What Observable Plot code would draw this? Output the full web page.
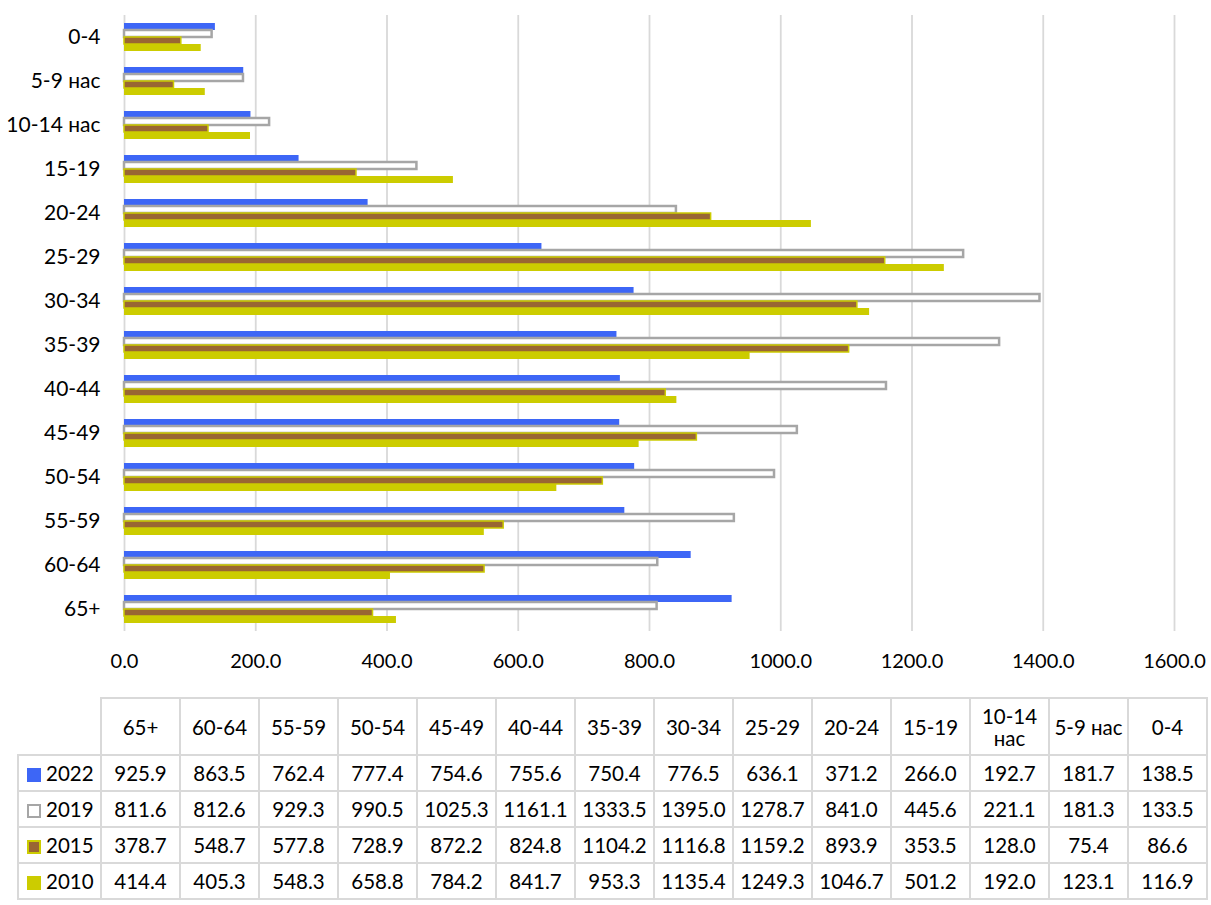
<!DOCTYPE html>
<html><head><meta charset="utf-8">
<script src="https://cdn.jsdelivr.net/npm/d3@7"></script>
<script src="https://cdn.jsdelivr.net/npm/@observablehq/plot@0.6"></script>
<style>
body{margin:0;background:#fff;font-family:Lato,"Open Sans",sans-serif;}
#chart svg{display:block}
#chart svg g[aria-label="fy-axis tick label"] text{font-size:21px}
table{border-collapse:collapse;margin-left:17px;table-layout:fixed;font-size:20.5px;color:#000;font-family:Lato,"Open Sans",sans-serif;}
td{border:2px solid #d9d9d9;text-align:center;padding:0 2px;height:36px;line-height:22px;box-sizing:border-box}
tr.head td{height:57px}
td.blank{border-top:none;border-left:none}
td.lab{text-align:left;padding-left:8px;white-space:nowrap}
.key{display:inline-block;width:14px;height:14px;box-sizing:border-box;margin-right:5px;vertical-align:-1px}
</style>
</head><body>
<div id="chart"></div>
<script>
const ages = ["0-4","5-9 нас","10-14 нас","15-19","20-24","25-29","30-34","35-39","40-44","45-49","50-54","55-59","60-64","65+"];
const years = ["2022","2019","2015","2010"];
const v2022 = [138.5,181.7,192.7,266.0,371.2,636.1,776.5,750.4,755.6,754.6,777.4,762.4,863.5,925.9];
const v2019 = [133.5,181.3,221.1,445.6,841.0,1278.7,1395.0,1333.5,1161.1,1025.3,990.5,929.3,812.6,811.6];
const v2015 = [86.6,75.4,128.0,353.5,893.9,1159.2,1116.8,1104.2,824.8,872.2,728.9,577.8,548.7,378.7];
const v2010 = [116.9,123.1,192.0,501.2,1046.7,1249.3,1135.4,953.3,841.7,784.2,658.8,548.3,405.3,414.4];
const xTicks = [0,200,400,600,800,1000,1200,1400,1600];

const series = {"2022": v2022, "2019": v2019, "2015": v2015, "2010": v2010};
const styles = {
  "2022": {fill:"#3d66f6", stroke:"none", strokeWidth:0},
  "2019": {fill:"#ffffff", stroke:"#a6a6a6", strokeWidth:2.5},
  "2015": {fill:"#996633", stroke:"#cccc00", strokeWidth:1.5},
  "2010": {fill:"#cccc00", stroke:"none", strokeWidth:0}
};
const rows = years.flatMap(y => ages.map((a,i) => ({age:a, year:y, v:series[y][i]})));

const fmt = d3.format(".1f");
const chart = Plot.plot({
  width:1211, height:697,
  marginTop:13, marginBottom:64, marginLeft:124, marginRight:37,
  style:{fontFamily:"Lato, 'Open Sans', sans-serif", fontSize:"20px", color:"#000", background:"#fff"},
  x:{domain:[0,1600], ticks:xTicks, tickFormat:fmt, tickSize:0, tickPadding:22, label:null},
  y:{domain:years, paddingInner:0, paddingOuter:0.953, axis:null},
  fy:{domain:ages, padding:0, axis:"left", tickSize:0, tickPadding:24, label:null},
  marks:[
    Plot.ruleX(xTicks, {stroke:"#d9d9d9", strokeWidth:1.8}),
    ...years.map(yr => Plot.barX(rows.filter(d => d.year === yr), {
      fy:"age", y:"year", x:"v",
      fill: styles[yr].fill, stroke: styles[yr].stroke, strokeWidth: styles[yr].strokeWidth
    }))
  ]
});
document.getElementById("chart").appendChild(chart);

// data table
const colOrder = ages.slice().reverse();
const table = document.createElement("table");
const colgroup = document.createElement("colgroup");
const c0 = document.createElement("col"); c0.style.width = "83px"; colgroup.appendChild(c0);
colOrder.forEach(() => { const c = document.createElement("col"); c.style.width = "79px"; colgroup.appendChild(c); });
table.appendChild(colgroup);
const head = document.createElement("tr"); head.className = "head";
const blank = document.createElement("td"); blank.className = "blank"; head.appendChild(blank);
colOrder.forEach(a => { const td = document.createElement("td"); td.textContent = a; head.appendChild(td); });
table.appendChild(head);
const keyStyle = {
  "2022": "background:#3d66f6;",
  "2019": "background:#fff;border:2.5px solid #a6a6a6;",
  "2015": "background:#996633;border:2px solid #cccc00;",
  "2010": "background:#cccc00;"
};
years.forEach(yr => {
  const tr = document.createElement("tr");
  const lab = document.createElement("td"); lab.className = "lab";
  lab.innerHTML = `<span class="key" style="${keyStyle[yr]}"></span>${yr}`;
  tr.appendChild(lab);
  colOrder.forEach(a => {
    const td = document.createElement("td");
    td.textContent = fmt(series[yr][ages.indexOf(a)]);
    tr.appendChild(td);
  });
  table.appendChild(tr);
});
document.body.appendChild(table);
</script>
</body></html>
